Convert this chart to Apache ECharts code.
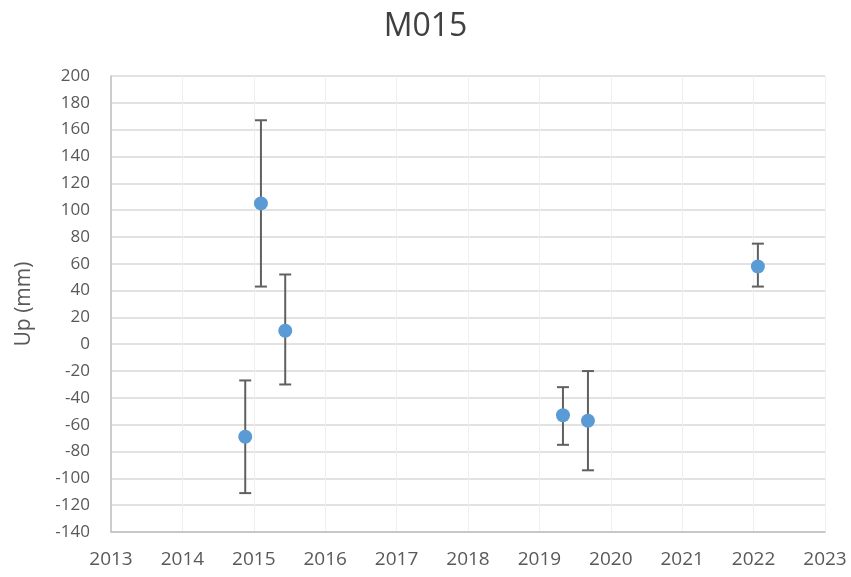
<!DOCTYPE html>
<html><head><meta charset="utf-8">
<script src="https://cdn.jsdelivr.net/npm/echarts@6/dist/echarts.min.js"></script>
<style>html,body{margin:0;padding:0;background:#fff}#c{width:851px;height:577px}</style>
</head><body><div id="c"></div>
<script>
var years = [2014.88, 2015.10, 2015.44, 2019.33, 2019.68, 2022.06];
var values = [-69, 105, 10, -53, -57, 58];
var upper = [-27, 167, 52, -32, -20, 75];
var lower = [-111, 43, -30, -75, -94, 43];
var xTicks = [2013, 2023, 1];
var yTicks = [-140, 200, 20];

var pts = years.map(function(y,i){return [y, values[i]];});
var errs = years.map(function(y,i){return [y, lower[i], upper[i]];});

var chart = echarts.init(document.getElementById('c'), null, {renderer:'canvas'});
var font = '"Open Sans", "Liberation Sans", sans-serif';
chart.setOption({
  animation:false,
  backgroundColor:'#fff',
  title:{text:'M015', left:'center', top:6, textStyle:{fontFamily:font, fontSize:32, fontWeight:'normal', color:'#404040'}},
  grid:{left:111, right:26, top:76, bottom:45},
  xAxis:{type:'value', min:xTicks[0], max:xTicks[1], interval:xTicks[2],
    axisLine:{show:true, onZero:false, lineStyle:{color:'#bfbfbf', width:1.5}},
    axisTick:{show:false},
    axisLabel:{color:'#595959', fontSize:19, fontFamily:font, margin:18, formatter:function(v){return String(v);}},
    splitLine:{show:true, lineStyle:{color:'#efefef', width:1}}},
  yAxis:{type:'value', min:yTicks[0], max:yTicks[1], interval:yTicks[2],
    name:'Up (mm)', nameLocation:'middle', nameGap:76, nameRotate:90,
    nameTextStyle:{color:'#595959', fontSize:21, fontFamily:font},
    axisLine:{show:true, onZero:false, lineStyle:{color:'#bfbfbf', width:1.5}},
    axisTick:{show:false},
    axisLabel:{color:'#595959', fontSize:17, fontFamily:font, margin:21},
    splitLine:{show:true, lineStyle:{color:'#d9d9d9', width:1.5}}},
  series:[
    {type:'custom', data:errs, z:2,
     renderItem:function(params, api){
       var x = api.value(0);
       var lo = api.coord([x, api.value(1)]);
       var hi = api.coord([x, api.value(2)]);
       var hw = 6;
       var st = {stroke:'#606060', lineWidth:2};
       return {type:'group', children:[
         {type:'line', shape:{x1:lo[0], y1:lo[1], x2:hi[0], y2:hi[1]}, style:st},
         {type:'line', shape:{x1:lo[0]-hw, y1:lo[1], x2:lo[0]+hw, y2:lo[1]}, style:st},
         {type:'line', shape:{x1:hi[0]-hw, y1:hi[1], x2:hi[0]+hw, y2:hi[1]}, style:st}
       ]};
     }},
    {type:'scatter', data:pts, symbol:'circle', symbolSize:14, z:3,
     itemStyle:{color:'#5b9bd5', opacity:1}}
  ]
});
</script></body></html>
